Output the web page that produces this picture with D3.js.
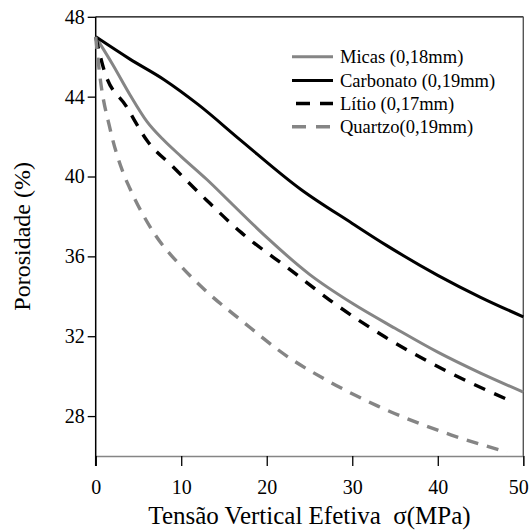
<!DOCTYPE html>
<html>
<head>
<meta charset="utf-8">
<script src="https://cdn.jsdelivr.net/npm/d3@7"></script>
<style>
  html, body { margin: 0; padding: 0; background: #fff; }
  svg { display: block; }
</style>
</head>
<body>
<svg id="chart" width="531" height="530"></svg>
<script>
// ---- data ----
const seriesNames = ["Micas (0,18mm)", "Carbonato (0,19mm)", "Lítio (0,17mm)", "Quartzo(0,19mm)"];

const micasX = [0, 2, 4, 6, 8, 10, 13, 16, 20, 25, 30, 35, 40, 45, 50];
const micasY = [47, 45.6, 44.1, 42.75, 41.8, 41.0, 39.85, 38.6, 36.95, 35.1, 33.65, 32.4, 31.2, 30.15, 29.2];

const carbX = [0, 4, 8, 12, 17, 24, 30, 34, 40, 45, 50];
const carbY = [47, 45.88, 44.85, 43.6, 41.8, 39.35, 37.65, 36.55, 35.05, 33.95, 32.97];

const litioX = [0, 1, 3.6, 6, 9, 13, 17, 23, 27.4, 33.8, 41.2, 48.3];
const litioY = [47, 45.3, 43.5, 41.8, 40.5, 38.8, 37.2, 35.25, 33.8, 31.97, 30.22, 28.8];

const quartzoX = [0, 0.5, 1.7, 3.2, 4, 7, 10, 12.8, 17, 22.7, 27, 33, 41.6, 48.1];
const quartzoY = [47, 45.0, 42.35, 40.2, 39.4, 37.05, 35.5, 34.3, 32.8, 30.9, 29.8, 28.5, 27.05, 26.2];

const xTicks = [0, 10, 20, 30, 40, 50];
const yTicks = [28, 32, 36, 40, 44, 48];

// ---- layout ----
const FONT = '"Liberation Serif"';
const svg = d3.select("#chart");
const pL = 95.7, pR = 523.3, pT = 16.8, pB = 456;
const x = d3.scaleLinear().domain([0, 50]).range([pL, pR]);
const y = d3.scaleLinear().domain([26, 48]).range([pB, pT]);

const gray = "#858585";

// frame
svg.append("line").attr("x1", pL).attr("x2", pR).attr("y1", pT).attr("y2", pT)
  .attr("stroke", "#000").attr("stroke-width", 1.3);
svg.append("line").attr("x1", pR).attr("x2", pR).attr("y1", pT).attr("y2", pB)
  .attr("stroke", "#555").attr("stroke-width", 1.4);

// x axis
const xAxis = svg.append("g").attr("transform", `translate(0,${pB})`)
  .call(d3.axisBottom(x).tickValues(xTicks).tickSize(10).tickPadding(14).tickFormat(d3.format("d")));
xAxis.attr("font-family", null).attr("font-size", null);
xAxis.select(".domain").attr("stroke", gray).attr("stroke-width", 1.4);
xAxis.selectAll(".tick line").attr("stroke", "#000").attr("stroke-width", 1.3);
xAxis.selectAll(".tick text").style("font-family", FONT).style("font-size", "20px").attr("fill", "#000")
  .attr("dx", d => d === 50 ? -5 : 0);

// y axis
const yAxis = svg.append("g").attr("transform", `translate(${pL},0)`)
  .call(d3.axisLeft(y).tickValues(yTicks).tickSize(8).tickPadding(3).tickFormat(d3.format("d")));
yAxis.attr("font-family", null).attr("font-size", null);
yAxis.select(".domain").remove();
yAxis.selectAll(".tick line").attr("stroke", "#000").attr("stroke-width", 1.3);
yAxis.selectAll(".tick text").style("font-family", FONT).style("font-size", "20px").attr("fill", "#000");
svg.append("line").attr("x1", pL).attr("x2", pL).attr("y1", pT).attr("y2", pB + 10)
  .attr("stroke", "#000").attr("stroke-width", 1.5);

// series
const line = d3.line().x(d => x(d[0])).y(d => y(d[1])).curve(d3.curveMonotoneX);
const zip = (a, b) => a.map((v, i) => [v, b[i]]);
const series = [
  { name: seriesNames[0], pts: zip(micasX, micasY), color: gray, dash: null, w: 3 },
  { name: seriesNames[1], pts: zip(carbX, carbY), color: "#000", dash: null, w: 3 },
  { name: seriesNames[2], pts: zip(litioX, litioY), color: "#000", dash: "12,10", w: 3.4 },
  { name: seriesNames[3], pts: zip(quartzoX, quartzoY), color: gray, dash: "12,9", w: 3.4 }
];
svg.append("g").selectAll("path").data(series).join("path")
  .attr("d", d => line(d.pts))
  .attr("fill", "none")
  .attr("stroke", d => d.color)
  .attr("stroke-width", d => d.w)
  .attr("stroke-dasharray", d => d.dash);

// legend
const lg = svg.append("g");
const rowY = [56.7, 80.5, 103.5, 126.7];
series.forEach((s, i) => {
  lg.append("line").attr("x1", 292).attr("x2", 333).attr("y1", rowY[i]).attr("y2", rowY[i])
    .attr("stroke", s.color).attr("stroke-width", s.w)
    .attr("stroke-dasharray", s.dash ? "14,10" : null)
    .attr("stroke-dashoffset", s.dash && i === 2 ? -4 : 0);
  lg.append("text").attr("x", 340).attr("y", rowY[i] + 6)
    .style("font-family", FONT).style("font-size", "18.5px").attr("fill", "#000").text(s.name);
});

// axis titles
svg.append("text").attr("x", (pL + pR) / 2).attr("y", 524).attr("text-anchor", "middle")
  .style("font-family", FONT).style("font-size", "25px").style("white-space", "pre").attr("fill", "#000")
  .text("Tensão Vertical Efetiva  σ(MPa)");
svg.append("text").attr("transform", `translate(30,${(pT + pB) / 2}) rotate(-90)`)
  .attr("text-anchor", "middle").style("font-family", FONT).style("font-size", "24px").attr("fill", "#000")
  .text("Porosidade (%)");
</script>
</body>
</html>
